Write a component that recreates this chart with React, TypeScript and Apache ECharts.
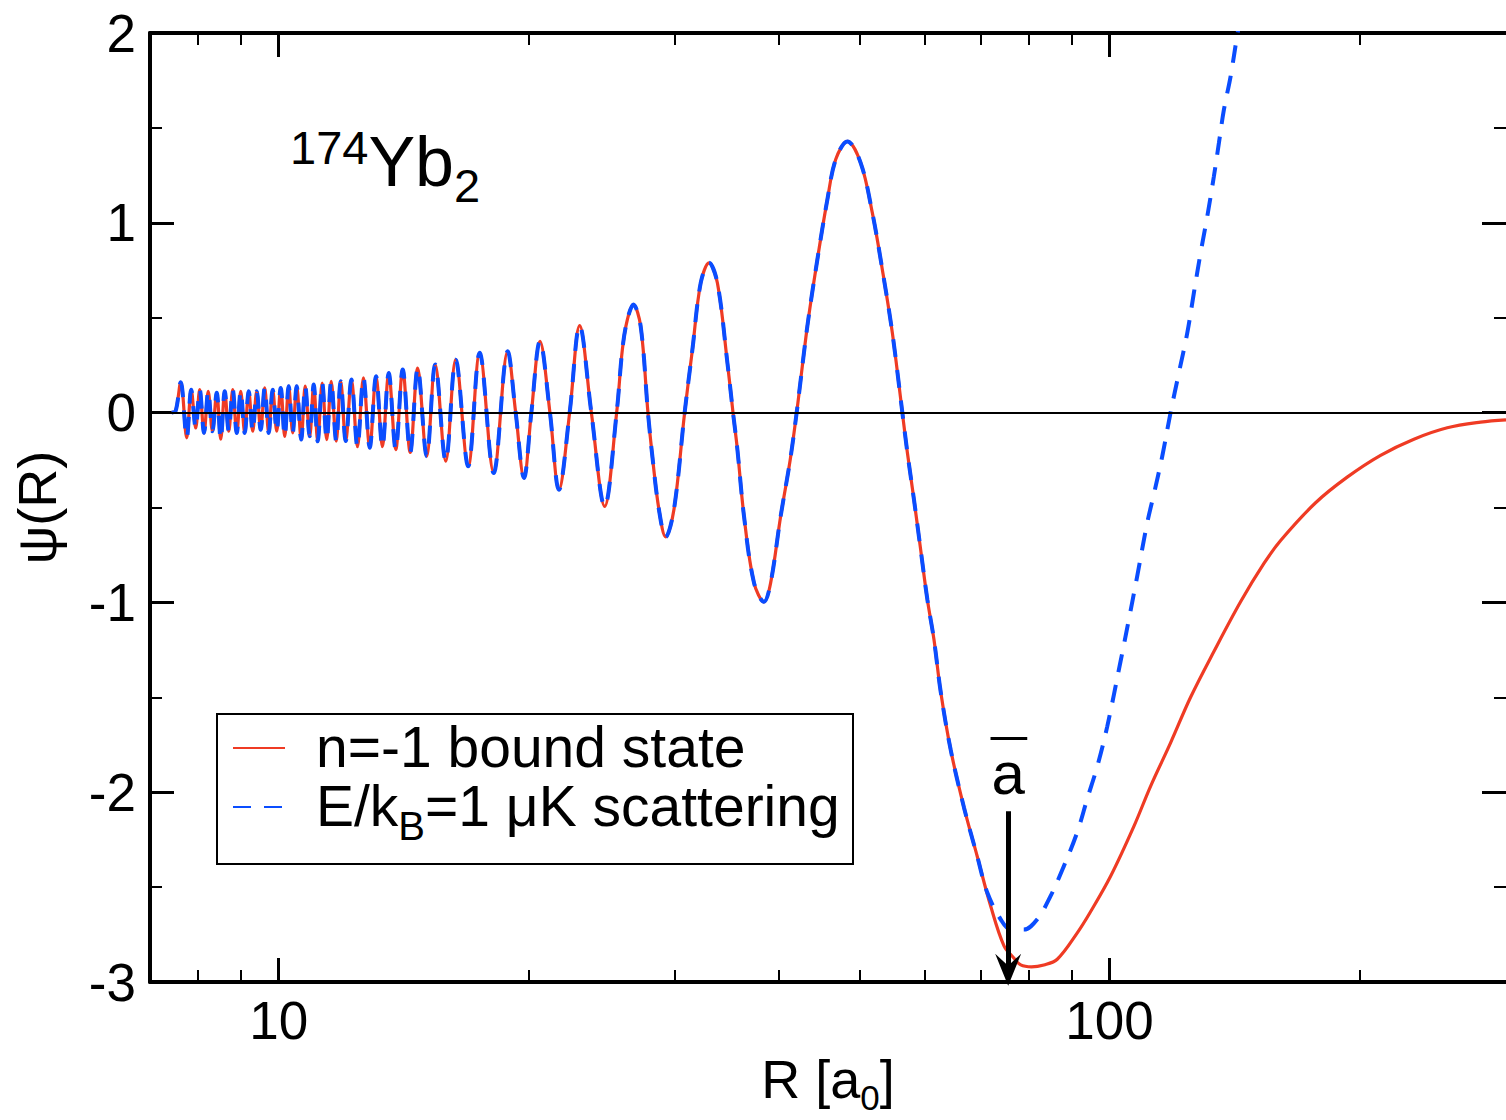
import React, { useEffect, useRef } from 'react';
import * as echarts from 'echarts';

const FONT = '"Liberation Sans", Arial, Helvetica, sans-serif';
const RED = '#ef3b24';
const BLUE = '#0a4dff';

// Shared part of both wavefunctions (R in a0)
const innerR = [
  7.434, 7.517, 7.622, 7.75, 7.847, 7.945, 8.034, 8.131, 8.226, 8.322,
  8.422, 8.516, 8.611, 8.707, 8.804, 8.902, 9.001, 9.101, 9.203, 9.305,
  9.409, 9.513, 9.619, 9.727, 9.835, 9.945, 10.056, 10.168, 10.281, 10.395,
  10.511, 10.643, 10.762, 10.897, 11.019, 11.141, 11.281, 11.423, 11.566, 11.728,
  11.875, 12.041, 12.233, 12.438, 12.647, 12.869, 13.096, 13.33, 13.565, 13.83,
  14.101, 14.397, 14.7, 15.071, 15.43, 15.886, 16.331, 16.906, 17.454, 18.145,
  18.862, 19.284, 19.733, 20.141, 20.627, 21.206, 21.741, 22.396, 23.025, 23.784,
  24.678, 25.512, 25.918, 26.28, 26.721, 27.267, 27.824, 28.165, 28.684, 29.222,
  29.902, 30.801, 31.472, 32.204, 32.953, 33.729, 34.677, 35.22, 35.652, 36.31,
  37.331, 38.371, 39.091, 40.19, 41.265, 42.015, 43.276, 44.494, 45.745, 46.81,
  48.353, 50.166, 51.819, 53.275, 54.772, 56.311, 57.098, 58.152, 59.242, 60.352,
  61.467, 62.62, 64.379, 66.794, 69.318,
];
const innerPsi = [
  0, 0.01, 0.16, -0.133, 0.121, -0.081, 0.121, -0.107, 0.112, -0.098,
  0.104, -0.14, 0.112, -0.098, 0.121, -0.107, 0.112, -0.107, 0.112, -0.098,
  0.112, -0.09, 0.13, -0.107, 0.121, -0.098, 0.13, -0.125, 0.139, -0.107,
  0.139, -0.142, 0.139, -0.125, 0.148, -0.151, 0.156, -0.142, 0.165, -0.151,
  0.165, -0.15, 0.174, -0.18, 0.183, -0.185, 0.191, -0.18, 0.209, -0.195,
  0.227, -0.21, 0.235, -0.23, 0.253, -0.256, 0.279, -0.283, 0.315, -0.318,
  0.323, 0, -0.344, 0, 0.376, 0, -0.406, 0, 0.458, 0,
  -0.494, 0, 0.332, 0.49, 0.569, 0.455, 0, -0.23, -0.511, -0.655,
  -0.511, 0, 0.332, 0.683, 0.789, 0.683, 0.262, 0, -0.195, -0.546,
  -0.897, -0.997, -0.897, -0.546, -0.25, 0, 0.455, 0.806, 1.122, 1.333,
  1.429, 1.316, 1.052, 0.753, 0.42, 0, -0.21, -0.458, -0.722, -0.985,
  -1.196, -1.47, -1.776, -2.08, -2.34,
];

// n = -1 bound state, outer part
const boundTailR = [
  71.925, 74.634, 76.733, 78.17, 80.55, 83.352, 86.504, 91.441, 94.861, 100.277,
  106.964, 112.025, 118.413, 125.168, 133.527, 143.774, 153.383, 160.648, 176.996, 193.193,
  211.917, 232.423, 254.942, 279.587, 300,
];
const boundTailPsi = [
  -2.6, -2.81, -2.875, -2.91, -2.92, -2.91, -2.88, -2.741, -2.63, -2.443,
  -2.18, -1.969, -1.74, -1.5, -1.259, -0.997, -0.795, -0.674, -0.475, -0.34,
  -0.225, -0.14, -0.08, -0.05, -0.038,
];

// E/kB = 1 uK scattering state, outer part
const scatterTailR = [
  71.27, 73.955, 76.035, 78.876, 81.831, 84.902, 88.093, 91.441, 93.997, 96.65,
  99.364, 103.096, 105.495, 107.978, 111.006, 113.058, 115.719, 118.413, 121.172, 124.03,
  126.318, 128.687, 131.098, 133.527, 135.394, 137.281, 139.855, 142.467, 143.774,
];
const scatterTailPsi = [
  -2.53, -2.67, -2.724, -2.724, -2.67, -2.548, -2.39, -2.21, -2.035, -1.864,
  -1.653, -1.31, -1.09, -0.86, -0.58, -0.43, -0.23, 0, 0.209, 0.42,
  0.631, 0.841, 1.034, 1.245, 1.421, 1.596, 1.772, 1.99, 2.08,
];

const xMin = 7;
const xMax = 300;
const yMin = -3;
const yMax = 2;
const yStep = 1;
const xMajorTicks = [10, 100];
const xMinorTicks = [8, 9, 20, 30, 40, 50, 60, 70, 80, 90, 200];
const legendNames = ['n=-1 bound state', 'E/kB=1 μK scattering'];

// mean scattering length annotation
const aBar = 75.5;
const aBarArrow = [-2.1, -2.935];
const aBarLabelY = -1.9;
const aBarBarY = -1.714;
const aBarBarX = [71.9, 79.6];

const ARROW_HEAD = 'path://M0,0L13,32L0,20L-13,32ZM-16,32L-16,32M16,32L16,32';

const lg = (v: number) => Math.log10(v);

function helperX(position: string, values: number[], length: number, width: number, showLine: boolean) {
  return {
    type: 'value',
    position,
    min: lg(xMin),
    max: lg(xMax),
    axisLine: { show: showLine, onZero: false, lineStyle: { color: '#000', width: 4 } },
    axisTick: {
      show: true,
      inside: true,
      length,
      customValues: values.map(lg),
      lineStyle: { color: '#000', width },
    },
    axisLabel: { show: false },
    splitLine: { show: false },
  };
}

function yAxisDef(position: string, withLabels: boolean) {
  return {
    type: 'value',
    position,
    min: yMin,
    max: yMax,
    interval: yStep,
    axisLine: { show: withLabels, onZero: false, lineStyle: { color: '#000', width: 4 } },
    axisTick: { show: true, inside: true, length: 24, lineStyle: { color: '#000', width: 3 } },
    minorTick: { show: true, splitNumber: 2, length: 12, lineStyle: { color: '#000', width: 2 } },
    axisLabel: {
      show: withLabels,
      fontSize: 53,
      color: '#000',
      margin: 14,
      fontFamily: FONT,
    },
    splitLine: { show: false },
    minorSplitLine: { show: false },
    name: withLabels ? 'ψ(R)' : '',
    nameLocation: 'middle',
    nameGap: 86,
    nameTextStyle: { fontSize: 54, color: '#000', fontFamily: FONT },
  };
}

const boundPsi = [...innerPsi, ...boundTailPsi];
const scatterPsi = [...innerPsi, ...scatterTailPsi];
const boundData = [...innerR, ...boundTailR].map((r, i) => [r, boundPsi[i]]);
const scatterData = [...innerR, ...scatterTailR].map((r, i) => [r, scatterPsi[i]]);

const richBase = { fontFamily: FONT, color: '#000' };

const option: any = {
  animation: false,
  backgroundColor: '#fff',
  textStyle: { fontFamily: FONT },
  grid: { left: 150, top: 33, width: 1356, height: 949, containLabel: false, outerBoundsMode: 'none' },
  xAxis: [
    {
      type: 'log',
      logBase: 10,
      min: xMin,
      max: xMax,
      position: 'bottom',
      axisLine: { show: true, onZero: false, lineStyle: { color: '#000', width: 4 } },
      axisTick: { show: false },
      axisLabel: {
        show: true,
        fontSize: 53,
        color: '#000',
        margin: 12,
        fontFamily: FONT,
        formatter: (v: number) => {
          const hit = xMajorTicks.find((t) => Math.abs(v - t) < 1e-6 * t);
          return hit ? String(hit) : '';
        },
      },
      splitLine: { show: false },
      minorSplitLine: { show: false },
      name: '{n|R [a}{s|0}{n|]}',
      nameLocation: 'middle',
      nameGap: 55,
      nameTextStyle: {
        rich: {
          n: { ...richBase, fontSize: 54, lineHeight: 60, verticalAlign: 'top' },
          s: { ...richBase, fontSize: 35, lineHeight: 14, verticalAlign: 'top', padding: [28, 0, 0, 0] },
        },
      },
    },
    helperX('bottom', xMinorTicks, 12, 2, false),
    helperX('bottom', xMajorTicks, 24, 3, false),
    helperX('top', xMinorTicks, 12, 2, true),
    helperX('top', xMajorTicks, 24, 3, false),
  ],
  yAxis: [yAxisDef('left', true), yAxisDef('right', false)],
  legend: {
    orient: 'vertical',
    left: 232,
    top: 718,
    padding: 0,
    itemGap: 2,
    itemWidth: 52,
    itemHeight: 1,
    selectedMode: false,
    itemStyle: { opacity: 0 },
    data: legendNames,
    formatter: (name: string) =>
      name === legendNames[1]
        ? '{g|}{n|E/k}{s|B}{n|=1 μK scattering}'
        : '{g|}{n|' + name + '}',
    textStyle: {
      color: '#000',
      rich: {
        g: { width: 26 },
        n: { ...richBase, fontSize: 57, lineHeight: 60, verticalAlign: 'top' },
        s: { ...richBase, fontSize: 40, lineHeight: 18, verticalAlign: 'top', padding: [29, 0, 0, 0] },
      },
    },
  },
  graphic: [
    {
      type: 'rect',
      left: 216,
      top: 713,
      z: 3,
      shape: { width: 636, height: 150 },
      style: { fill: '#fff', stroke: '#000', lineWidth: 2 },
    },
    {
      type: 'text',
      x: 290,
      y: 100,
      z: 5,
      style: {
        text: '{sup|174}{big|Yb}{sub|2}',
        verticalAlign: 'top',
        align: 'left',
        rich: {
          sup: { ...richBase, fontSize: 47, lineHeight: 110, verticalAlign: 'top', padding: [24, 0, 0, 0] },
          big: { ...richBase, fontSize: 70, lineHeight: 110, verticalAlign: 'top', padding: [27, 0, 0, 0] },
          sub: { ...richBase, fontSize: 47, lineHeight: 110, verticalAlign: 'top', padding: [62, 0, 0, 0] },
        },
      },
    },
  ],
  series: [
    {
      name: legendNames[0],
      type: 'line',
      data: boundData,
      symbol: 'none',
      smooth: 0.35,
      z: 2,
      lineStyle: { color: RED, width: 3.2 },
      itemStyle: { color: RED },
      markLine: {
        silent: true,
        symbol: 'none',
        label: { show: false },
        lineStyle: { color: '#000', width: 2, type: 'solid' },
        data: [
          { yAxis: 0 },
          [
            { coord: [aBarBarX[0], aBarBarY], lineStyle: { width: 3 } },
            { coord: [aBarBarX[1], aBarBarY] },
          ],
        ],
      },
    },
    {
      name: legendNames[1],
      type: 'line',
      data: scatterData,
      symbol: 'none',
      smooth: 0.35,
      z: 3,
      lineStyle: { color: BLUE, width: 4, type: [18, 13] },
      itemStyle: { color: BLUE },
      markLine: {
        silent: true,
        symbol: ['none', ARROW_HEAD],
        symbolSize: 32,
        label: { show: false },
        itemStyle: { color: '#000' },
        lineStyle: { color: '#000', width: 5, type: 'solid' },
        data: [[{ coord: [aBar, aBarArrow[0]] }, { coord: [aBar, aBarArrow[1]] }]],
      },
      markPoint: {
        silent: true,
        symbol: 'rect',
        symbolSize: 1,
        itemStyle: { color: 'rgba(0,0,0,0)' },
        label: { show: true, position: 'inside', formatter: 'a', color: '#000', fontSize: 60, fontFamily: FONT },
        data: [{ coord: [aBar, aBarLabelY] }],
      },
    },
  ],
};

export default function App() {
  const ref = useRef<HTMLDivElement>(null);
  useEffect(() => {
    document.body.style.margin = '0';
    const chart = echarts.init(ref.current!, null, { renderer: 'svg' });
    chart.setOption(option);
    return () => chart.dispose();
  }, []);
  return <div ref={ref} style={{ position: 'absolute', left: 0, top: 0, width: 1506, height: 1120 }} />;
}
